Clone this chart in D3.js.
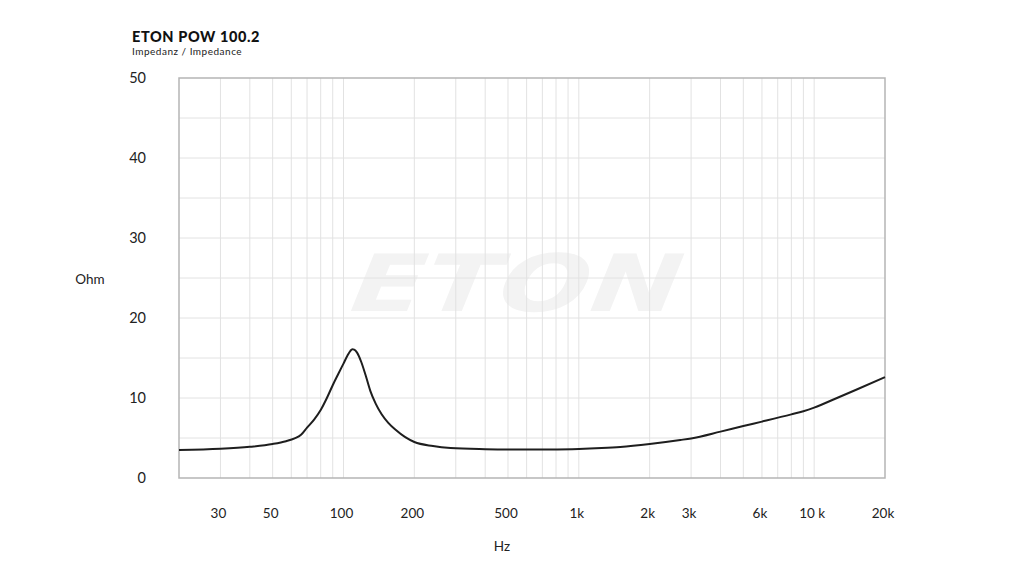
<!DOCTYPE html>
<html><head><meta charset="utf-8">
<script src="https://cdn.jsdelivr.net/npm/d3@7"></script>
<style>body{margin:0;background:#fff;}svg{display:block;font-family:Lato,"DejaVu Sans",sans-serif;}</style>
</head><body><svg id="c" width="1024" height="569"></svg>
<script>
const freqs = [20,30,40,50,57,62,66,70,75,80,85,90,95,100,104,107,109,111,114,119,124,130,137,145,155,167,183,200,240,285,400,560,750,1000,1250,1500,2000,2700,3000,4000,5000,6000,8000,9000,10000,12500,15000,20000];
const ohms  = [3.5,3.65,3.9,4.25,4.6,4.95,5.4,6.3,7.3,8.5,10.0,11.6,13.0,14.3,15.3,15.9,16.1,16.05,15.7,14.5,12.9,10.9,9.3,8.0,6.9,6.0,5.1,4.5,4.0,3.75,3.6,3.55,3.56,3.62,3.74,3.88,4.25,4.75,4.95,5.8,6.5,7.05,7.95,8.35,8.8,10.0,11.0,12.6];
const yTicks = [0,10,20,30,40,50];
const xTicks = [30,50,100,200,500,1000,2000,3000,6000,10000,20000];
const xTickLabels = ["30","50","100","200","500","1k","2k","3k","6k","10 k","20k"];
const xGrid = [30,40,50,60,70,80,90,100,200,300,400,500,600,700,800,900,1000,2000,3000,4000,5000,6000,7000,8000,9000,10000];
const yGrid = [5,10,15,20,25,30,35,40,45];

const svg = d3.select("#c");
const L=179,R=885,T=78,B=478;
const x = d3.scaleLog().domain([20,20000]).range([L,R]);
const y = d3.scaleLinear().domain([0,50]).range([B,T]);

// watermark
svg.append("g").attr("transform","translate(341,311) skewX(-22)")
  .append("text").attr("x",0).attr("y",0)
  .attr("font-size",79).attr("font-weight",700)
  .attr("font-family","'DejaVu Sans',sans-serif")
  .attr("textLength",330).attr("lengthAdjust","spacingAndGlyphs")
  .attr("fill","#f3f3f3").text("ETON");

// grid
svg.append("g").selectAll("line").data(xGrid).join("line")
  .attr("x1",d=>x(d)).attr("x2",d=>x(d)).attr("y1",T).attr("y2",B)
  .attr("stroke","#e2e2e2").attr("stroke-width",1);
svg.append("g").selectAll("line").data(yGrid).join("line")
  .attr("x1",L).attr("x2",R).attr("y1",d=>y(d)).attr("y2",d=>y(d))
  .attr("stroke","#e2e2e2").attr("stroke-width",1);

// frame
svg.append("rect").attr("x",L).attr("y",T).attr("width",R-L).attr("height",B-T)
  .attr("fill","none").attr("stroke","#b5b5b5").attr("stroke-width",1.5);

// curve
const line = d3.line().x((d,i)=>x(freqs[i])).y(d=>y(d)).curve(d3.curveMonotoneX);
svg.append("path").datum(ohms).attr("d",line).attr("fill","none")
  .attr("stroke","#1e1e1e").attr("stroke-width",2).attr("stroke-linejoin","round");

// y labels
svg.append("g").selectAll("text").data(yTicks).join("text")
  .attr("x",146).attr("y",d=>y(d)).attr("dy","0.35em").attr("text-anchor","end")
  .attr("font-size",14.5).attr("fill","#222").text(d=>d);
// x labels
svg.append("g").selectAll("text").data(xTicks).join("text")
  .attr("x",d=>x(d)-2).attr("y",518).attr("text-anchor","middle")
  .attr("font-size",13.5).attr("fill","#222").text((d,i)=>xTickLabels[i]);

svg.append("text").attr("x",90).attr("y",284).attr("text-anchor","middle")
  .attr("font-size",13.5).attr("fill","#222").text("Ohm");
svg.append("text").attr("x",502).attr("y",551).attr("text-anchor","middle")
  .attr("font-size",13.5).attr("fill","#222").text("Hz");

svg.append("text").attr("x",132).attr("y",42).attr("font-size",14.5)
  .attr("font-weight",900).attr("letter-spacing",0.6).attr("fill","#111").text("ETON POW 100.2");
svg.append("text").attr("x",132).attr("y",55).attr("font-size",10)
  .attr("letter-spacing",0.5).attr("fill","#222").text("Impedanz / Impedance");
</script></body></html>
